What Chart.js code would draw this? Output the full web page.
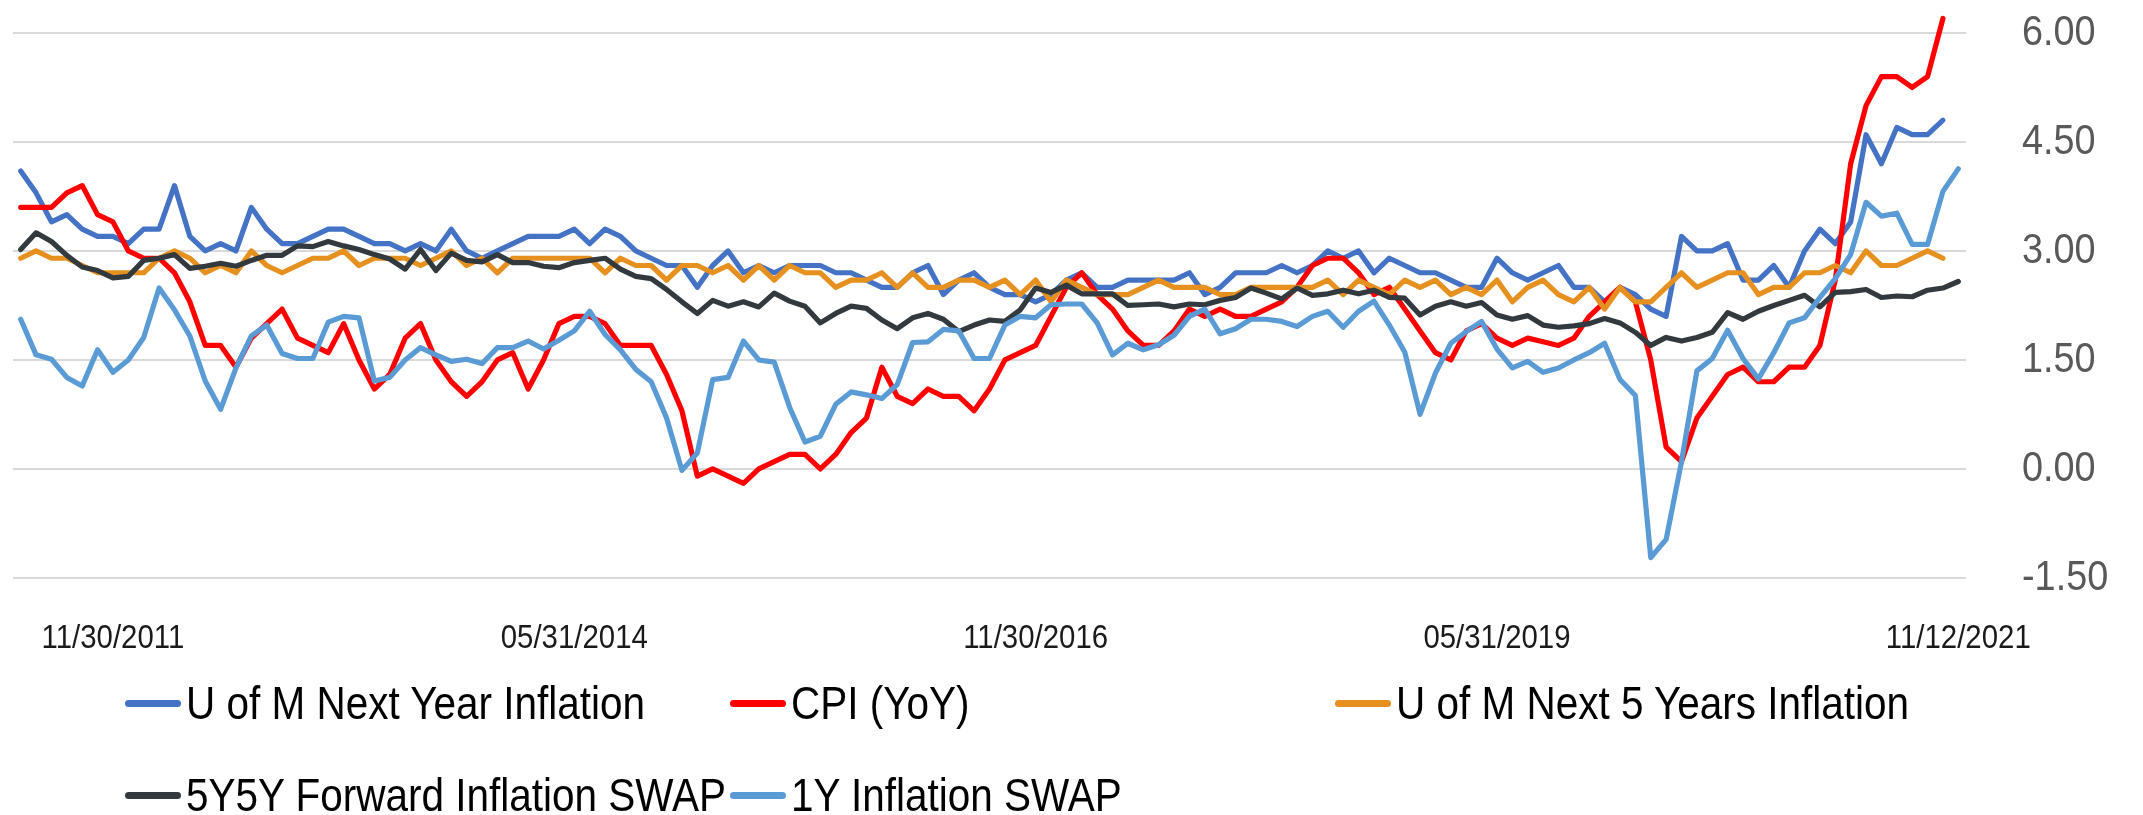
<!DOCTYPE html>
<html>
<head>
<meta charset="utf-8">
<script src="https://cdn.jsdelivr.net/npm/chart.js@4.4.1/dist/chart.umd.min.js"></script>
<style>
  html, body { margin: 0; padding: 0; background: #fff; overflow: hidden; }
  #wrap { position: relative; width: 2143px; height: 815px; }
  #legend {
    position: absolute; left: 0; top: 657px; width: 2143px;
    box-sizing: border-box; padding-left: 125px;
    display: grid; grid-template-columns: 605px 605px 605px; grid-auto-rows: 92px;
    font-family: 'Liberation Sans', Arial, sans-serif;
    font-size: 46px; color: #000;
  }
  .item { display: flex; align-items: center; white-space: nowrap; }
  .swatch { width: 56px; height: 7px; border-radius: 4px; margin-right: 5px; flex: none; }
  .txt { display: inline-block; transform: scaleX(0.88); transform-origin: left center; }
</style>
</head>
<body>
<div id="wrap">
  <canvas id="myChart" width="2143" height="665"></canvas>
  <div id="legend"></div>
</div>
<script>
const FONT = "'Liberation Sans', Arial, sans-serif";
const NARROW = 0.88; // the original uses a narrow face, squeeze the text to match

// month-end dates, last one is the partial month
const fechas = [
  "05/31/2011","06/30/2011","07/31/2011","08/31/2011","09/30/2011","10/31/2011","11/30/2011","12/31/2011",
  "01/31/2012","02/29/2012","03/31/2012","04/30/2012","05/31/2012","06/30/2012","07/31/2012","08/31/2012","09/30/2012","10/31/2012","11/30/2012","12/31/2012",
  "01/31/2013","02/28/2013","03/31/2013","04/30/2013","05/31/2013","06/30/2013","07/31/2013","08/31/2013","09/30/2013","10/31/2013","11/30/2013","12/31/2013",
  "01/31/2014","02/28/2014","03/31/2014","04/30/2014","05/31/2014","06/30/2014","07/31/2014","08/31/2014","09/30/2014","10/31/2014","11/30/2014","12/31/2014",
  "01/31/2015","02/28/2015","03/31/2015","04/30/2015","05/31/2015","06/30/2015","07/31/2015","08/31/2015","09/30/2015","10/31/2015","11/30/2015","12/31/2015",
  "01/31/2016","02/29/2016","03/31/2016","04/30/2016","05/31/2016","06/30/2016","07/31/2016","08/31/2016","09/30/2016","10/31/2016","11/30/2016","12/31/2016",
  "01/31/2017","02/28/2017","03/31/2017","04/30/2017","05/31/2017","06/30/2017","07/31/2017","08/31/2017","09/30/2017","10/31/2017","11/30/2017","12/31/2017",
  "01/31/2018","02/28/2018","03/31/2018","04/30/2018","05/31/2018","06/30/2018","07/31/2018","08/31/2018","09/30/2018","10/31/2018","11/30/2018","12/31/2018",
  "01/31/2019","02/28/2019","03/31/2019","04/30/2019","05/31/2019","06/30/2019","07/31/2019","08/31/2019","09/30/2019","10/31/2019","11/30/2019","12/31/2019",
  "01/31/2020","02/29/2020","03/31/2020","04/30/2020","05/31/2020","06/30/2020","07/31/2020","08/31/2020","09/30/2020","10/31/2020","11/30/2020","12/31/2020",
  "01/31/2021","02/28/2021","03/31/2021","04/30/2021","05/31/2021","06/30/2021","07/31/2021","08/31/2021","09/30/2021","10/31/2021",
  "11/12/2021"
];

// only these dates get a label on the x axis
const tickLabels = ["11/30/2011", "05/31/2014", "11/30/2016", "05/31/2019", "11/12/2021"];

const umNextYear = [
  4.1,3.8,3.4,3.5,3.3,3.2,3.2,3.1,3.3,3.3,
  3.9,3.2,3.0,3.1,3.0,3.6,3.3,3.1,3.1,3.2,
  3.3,3.3,3.2,3.1,3.1,3.0,3.1,3.0,3.3,3.0,
  2.9,3.0,3.1,3.2,3.2,3.2,3.3,3.1,3.3,3.2,
  3.0,2.9,2.8,2.8,2.5,2.8,3.0,2.7,2.8,2.7,
  2.8,2.8,2.8,2.7,2.7,2.6,2.5,2.5,2.7,2.8,
  2.4,2.6,2.7,2.5,2.4,2.4,2.3,2.4,2.6,2.7,
  2.5,2.5,2.6,2.6,2.6,2.6,2.7,2.4,2.5,2.7,
  2.7,2.7,2.8,2.7,2.8,3.0,2.9,3.0,2.7,2.9,
  2.8,2.7,2.7,2.6,2.5,2.5,2.9,2.7,2.6,2.7,
  2.8,2.5,2.5,2.3,2.5,2.4,2.2,2.1,3.2,3.0,
  3.0,3.1,2.6,2.6,2.8,2.5,3.0,3.3,3.1,3.4,
  4.6,4.2,4.7,4.6,4.6,4.8,null
];

const cpiYoY = [
  3.6,3.6,3.6,3.8,3.9,3.5,3.4,3.0,2.9,2.9,
  2.7,2.3,1.7,1.7,1.4,1.8,2.0,2.2,1.8,1.7,
  1.6,2.0,1.5,1.1,1.3,1.8,2.0,1.5,1.2,1.0,
  1.2,1.5,1.6,1.1,1.5,2.0,2.1,2.1,2.0,1.7,
  1.7,1.7,1.3,0.8,-0.1,0.0,-0.1,-0.2,0.0,0.1,
  0.2,0.2,0.0,0.2,0.5,0.7,1.4,1.0,0.9,1.1,
  1.0,1.0,0.8,1.1,1.5,1.6,1.7,2.1,2.5,2.7,
  2.4,2.2,1.9,1.7,1.7,1.9,2.2,2.1,2.2,2.1,
  2.1,2.2,2.3,2.5,2.8,2.9,2.9,2.7,2.4,2.5,
  2.2,1.9,1.6,1.5,1.9,2.0,1.8,1.7,1.8,1.75,
  1.7,1.8,2.1,2.3,2.5,2.3,1.5,0.3,0.1,0.7,
  1.0,1.3,1.4,1.2,1.2,1.4,1.4,1.7,2.6,4.2,
  5.0,5.4,5.4,5.25,5.4,6.2,null
];

const umNext5Y = [
  2.9,3.0,2.9,2.9,2.8,2.7,2.7,2.7,2.7,2.9,
  3.0,2.9,2.7,2.8,2.7,3.0,2.8,2.7,2.8,2.9,
  2.9,3.0,2.8,2.9,2.9,2.9,2.8,2.9,3.0,2.8,
  2.9,2.7,2.9,2.9,2.9,2.9,2.9,2.9,2.7,2.9,
  2.8,2.8,2.6,2.8,2.8,2.7,2.8,2.6,2.8,2.6,
  2.8,2.7,2.7,2.5,2.6,2.6,2.7,2.5,2.7,2.5,
  2.5,2.6,2.6,2.5,2.6,2.4,2.6,2.3,2.6,2.5,
  2.4,2.4,2.4,2.5,2.6,2.5,2.5,2.5,2.4,2.4,
  2.5,2.5,2.5,2.5,2.5,2.6,2.4,2.6,2.5,2.4,
  2.6,2.5,2.6,2.4,2.5,2.4,2.6,2.3,2.5,2.6,
  2.4,2.3,2.5,2.2,2.5,2.3,2.3,2.5,2.7,2.5,
  2.6,2.7,2.7,2.4,2.5,2.5,2.7,2.7,2.8,2.7,
  3.0,2.8,2.8,2.9,3.0,2.9,null
];

const fwd5y5y = [
  3.02,3.25,3.13,2.94,2.78,2.73,2.63,2.65,2.87,2.90,
  2.95,2.76,2.79,2.83,2.79,2.87,2.94,2.94,3.07,3.06,
  3.13,3.07,3.02,2.95,2.89,2.75,3.02,2.73,2.97,2.87,
  2.85,2.95,2.84,2.84,2.79,2.77,2.84,2.87,2.90,2.75,
  2.65,2.62,2.47,2.30,2.14,2.32,2.24,2.30,2.23,2.42,
  2.31,2.24,2.01,2.14,2.24,2.21,2.05,1.93,2.08,2.14,
  2.06,1.89,1.98,2.05,2.03,2.19,2.49,2.43,2.53,2.41,
  2.41,2.41,2.25,2.26,2.27,2.23,2.27,2.26,2.32,2.36,
  2.49,2.42,2.34,2.49,2.39,2.41,2.46,2.41,2.46,2.36,
  2.35,2.12,2.24,2.30,2.24,2.29,2.12,2.06,2.11,1.98,
  1.95,1.97,2.00,2.07,2.01,1.88,1.70,1.81,1.76,1.81,
  1.88,2.15,2.06,2.17,2.25,2.32,2.39,2.23,2.43,2.44,
  2.47,2.36,2.38,2.37,2.46,2.49,2.58
];

const swap1y = [
  2.06,1.57,1.51,1.26,1.14,1.64,1.33,1.50,1.81,2.49,
  2.19,1.83,1.21,0.82,1.39,1.83,1.98,1.59,1.52,1.52,
  2.02,2.10,2.08,1.21,1.26,1.50,1.67,1.57,1.48,1.51,
  1.45,1.67,1.67,1.76,1.65,1.77,1.90,2.17,1.85,1.64,
  1.37,1.20,0.70,-0.02,0.22,1.23,1.26,1.76,1.50,1.47,
  0.85,0.37,0.45,0.89,1.06,1.02,0.97,1.16,1.74,1.75,
  1.92,1.90,1.52,1.52,1.98,2.10,2.08,2.26,2.27,2.27,
  2.01,1.57,1.73,1.64,1.71,1.84,2.10,2.20,1.86,1.93,
  2.06,2.06,2.03,1.96,2.10,2.17,1.95,2.17,2.31,1.98,
  1.61,0.75,1.32,1.73,1.89,2.03,1.65,1.39,1.48,1.33,
  1.39,1.50,1.60,1.73,1.23,1.01,-1.22,-0.97,0.10,1.35,
  1.52,1.91,1.52,1.24,1.60,2.01,2.08,2.36,2.62,2.95,
  3.67,3.48,3.52,3.09,3.09,3.82,4.13
];

const series = [
  { label: "U of M Next Year Inflation", data: umNextYear, color: "#4472C4" },
  { label: "CPI (YoY)", data: cpiYoY, color: "#FF0000" },
  { label: "U of M Next 5 Years Inflation", data: umNext5Y, color: "#E6901F" },
  { label: "5Y5Y Forward Inflation SWAP", data: fwd5y5y, color: "#333A3F" },
  { label: "1Y Inflation SWAP", data: swap1y, color: "#5B9BD5" },
];

const datasets = series.map((s, i) => ({
  label: s.label,
  data: s.data,
  borderColor: s.color,
  backgroundColor: s.color,
  borderWidth: 5.2,
  pointRadius: 0,
  tension: 0,
  borderCapStyle: "round",
  borderJoinStyle: "round",
  clip: false,
  order: series.length - i, // last series on top, like the original
}));

// squeeze canvas text horizontally around its anchor point
const narrowText = {
  id: "narrowText",
  beforeDraw(chart) {
    const ctx = chart.ctx;
    if (ctx.__narrow) return;
    const orig = CanvasRenderingContext2D.prototype.fillText;
    ctx.fillText = function (text, x, y, maxWidth) {
      this.save();
      this.translate(x, y);
      this.scale(NARROW, 1);
      if (maxWidth === undefined) orig.call(this, text, 0, 0);
      else orig.call(this, text, 0, 0, maxWidth / NARROW);
      this.restore();
    };
    ctx.__narrow = true;
  },
};

const config = {
  type: "line",
  data: { labels: fechas, datasets: datasets },
  options: {
    responsive: false,
    animation: false,
    devicePixelRatio: 1,
    layout: { padding: { top: 33, left: 13, right: 17, bottom: 0 } },
    plugins: {
      legend: { display: false },
      tooltip: { enabled: false },
    },
    scales: {
      x: {
        type: "category",
        offset: true,
        grid: { display: true, drawOnChartArea: false, drawTicks: true, tickLength: 35, tickColor: "transparent", color: "transparent" },
        border: { display: false },
        ticks: {
          autoSkip: false,
          maxRotation: 0,
          minRotation: 0,
          padding: 6,
          color: "#1a1a1a",
          font: { family: FONT, size: 33.4 },
          callback: function (value) {
            const l = this.getLabelForValue(value);
            return tickLabels.includes(l) ? l : "";
          },
        },
      },
      y: {
        position: "right",
        min: -1.5,
        max: 6,
        grid: { color: "#D9D9D9", lineWidth: 2, drawTicks: true, tickLength: 50, tickColor: "transparent" },
        border: { display: false },
        ticks: {
          stepSize: 1.5,
          padding: 6,
          color: "#595959",
          font: { family: FONT, size: 43 },
          callback: (v) => v.toFixed(2),
        },
      },
    },
  },
  plugins: [narrowText],
};

const myChart = new Chart(document.getElementById("myChart"), config);

// legend laid out in a fixed grid like the original
const legendBox = document.getElementById("legend");
series.forEach((s) => {
  const item = document.createElement("div");
  item.className = "item";
  const sw = document.createElement("span");
  sw.className = "swatch";
  sw.style.background = s.color;
  const txt = document.createElement("span");
  txt.className = "txt";
  txt.textContent = s.label;
  item.appendChild(sw);
  item.appendChild(txt);
  legendBox.appendChild(item);
});
</script>
</body>
</html>
